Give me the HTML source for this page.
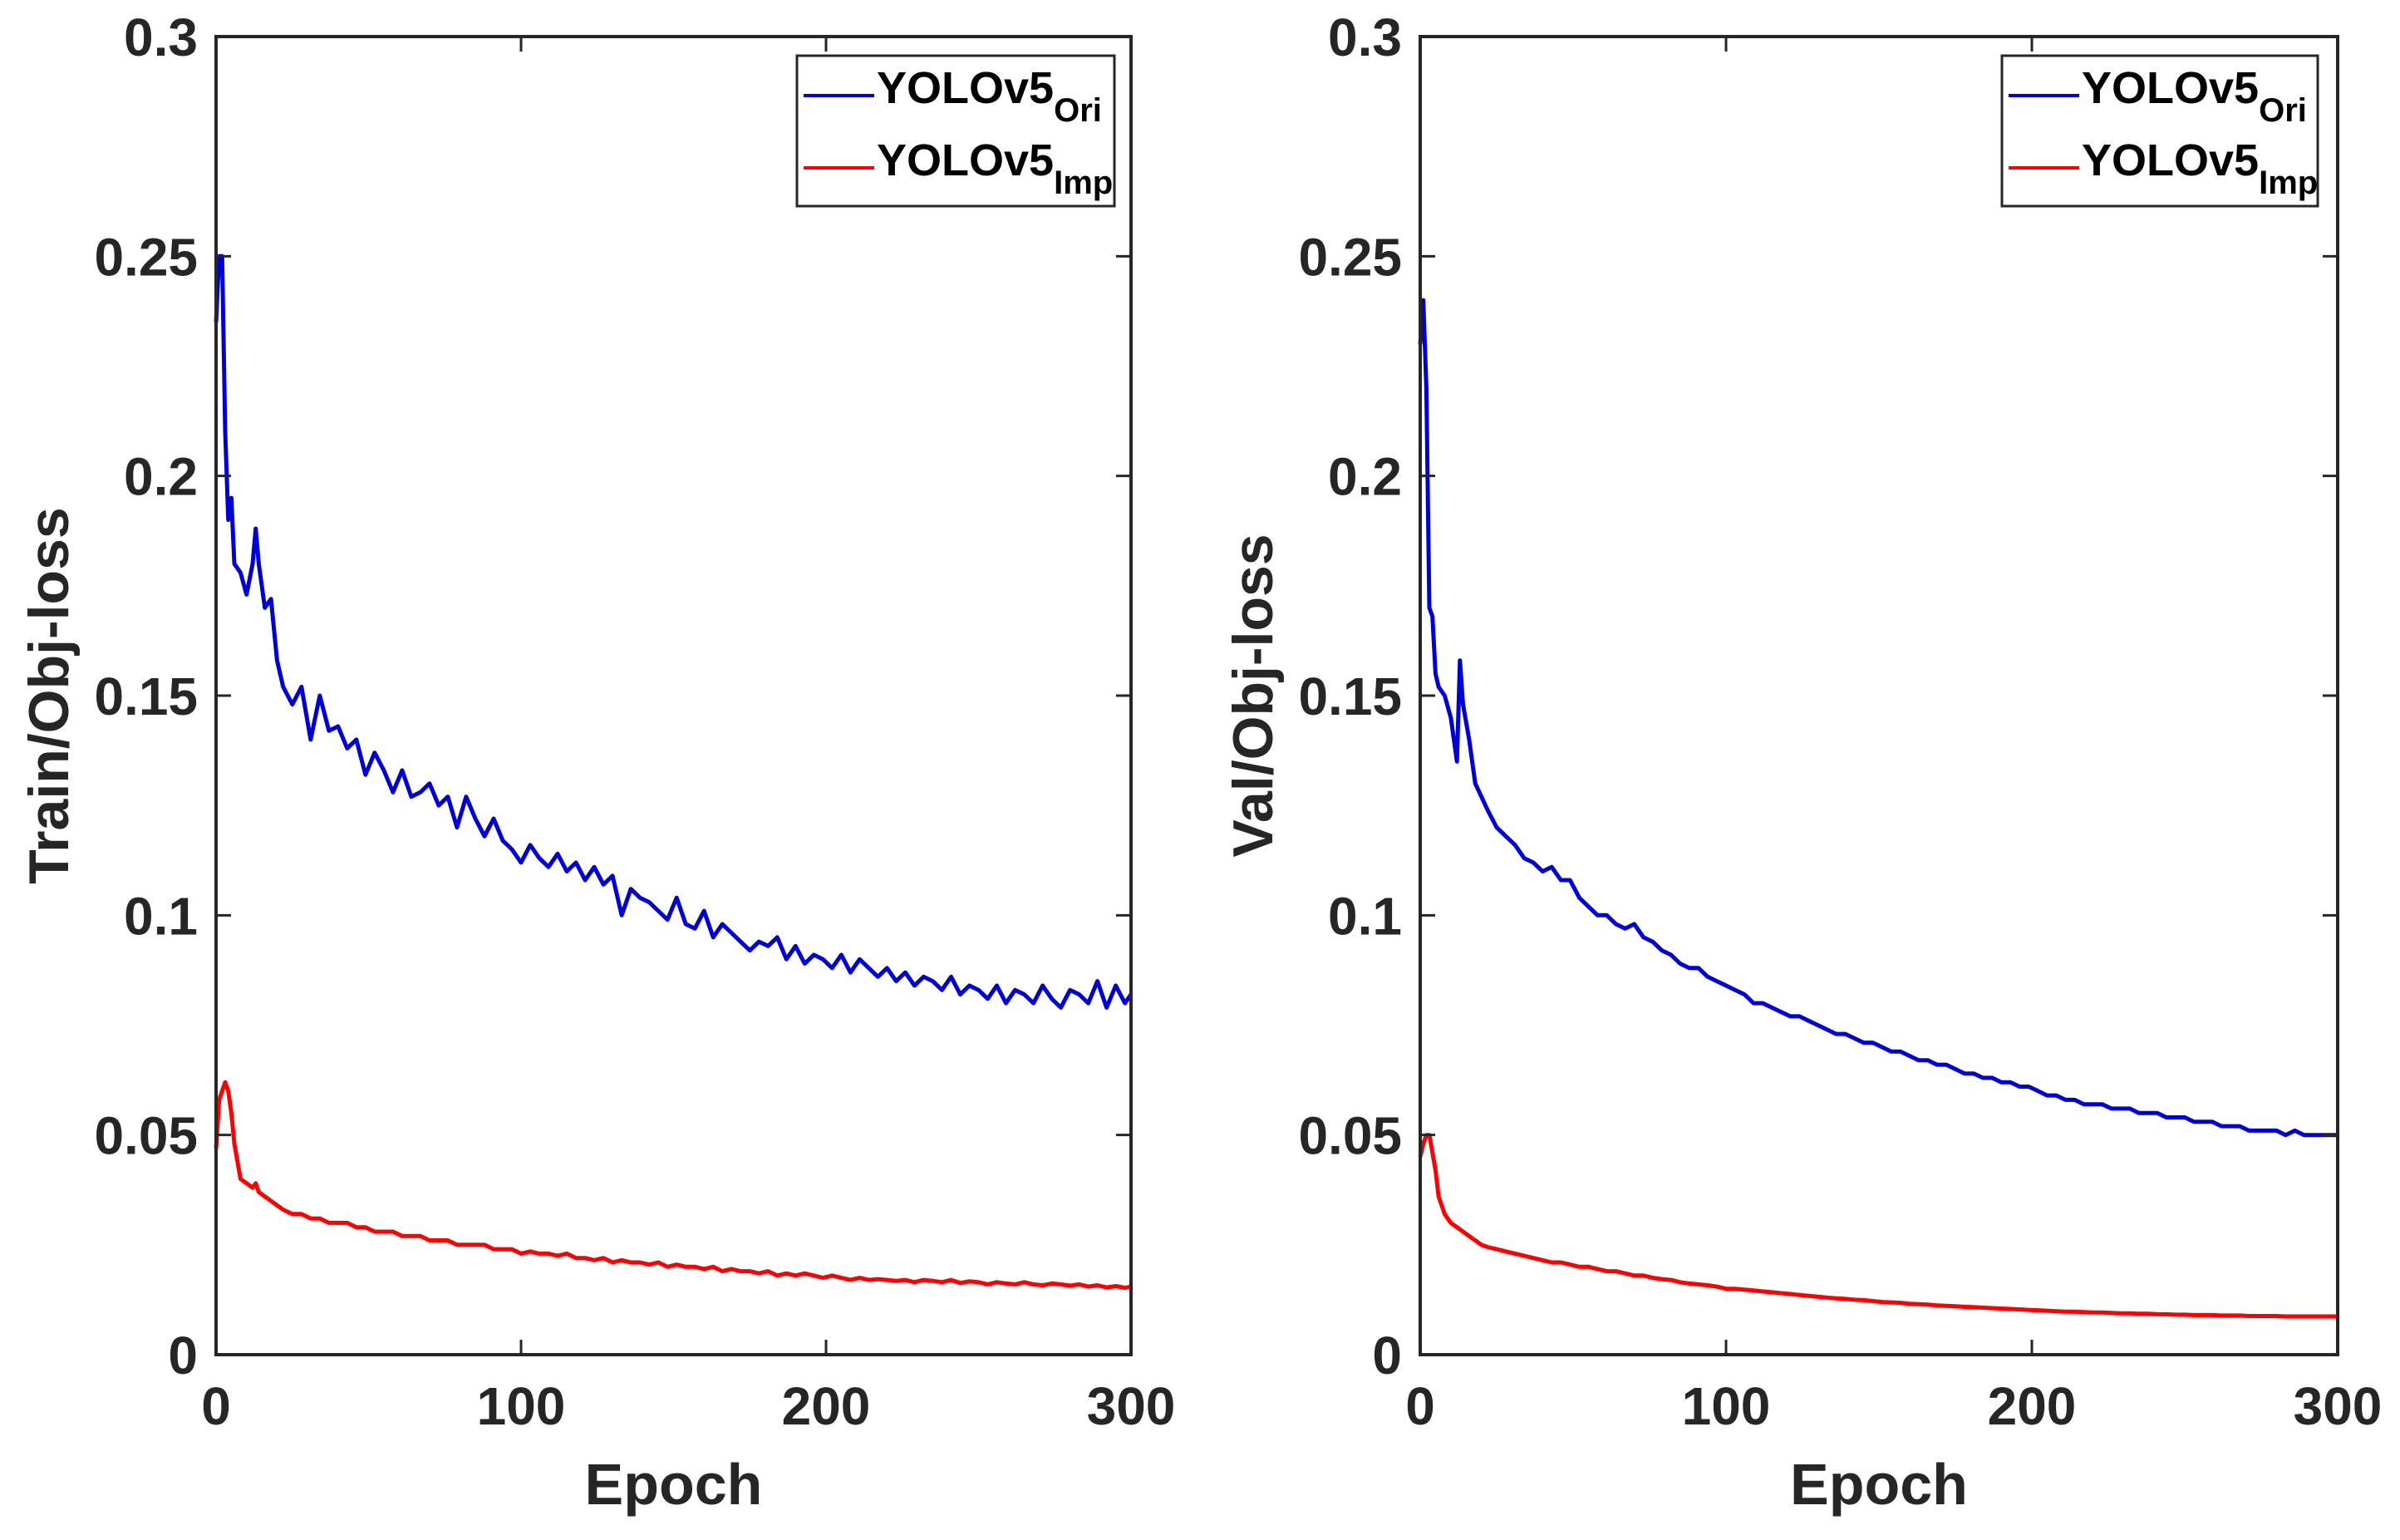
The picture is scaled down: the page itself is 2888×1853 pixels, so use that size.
<!DOCTYPE html>
<html><head><meta charset="utf-8">
<style>
html,body{margin:0;padding:0;background:#fff;}
svg{display:block;font-family:"Liberation Sans",Arial,sans-serif;font-weight:bold;}
</style></head>
<body>
<svg id="chart" width="2888" height="1853" viewBox="0 0 2888 1853" xmlns="http://www.w3.org/2000/svg"></svg>
<script>
const epochs=[0,1,2,3,4,5,6,8,10,12,13,14,16,18,20,22,25,28,31,34,37,40,43,46,49,52,55,58,61,64,67,70,73,76,79,82,85,88,91,94,97,100,103,106,109,112,115,118,121,124,127,130,133,136,139,142,145,148,151,154,157,160,163,166,169,172,175,178,181,184,187,190,193,196,199,202,205,208,211,214,217,220,223,226,229,232,235,238,241,244,247,250,253,256,259,262,265,268,271,274,277,280,283,286,289,292,295,298,300];
const trainOri=[0.235,0.25,0.25,0.21,0.19,0.195,0.18,0.178,0.173,0.18,0.188,0.18,0.17,0.172,0.158,0.152,0.148,0.152,0.140,0.150,0.142,0.143,0.138,0.140,0.132,0.137,0.133,0.128,0.133,0.127,0.128,0.130,0.125,0.127,0.120,0.127,0.122,0.118,0.122,0.117,0.115,0.112,0.116,0.113,0.111,0.114,0.110,0.112,0.108,0.111,0.107,0.109,0.100,0.106,0.104,0.103,0.101,0.099,0.104,0.098,0.097,0.101,0.095,0.098,0.096,0.094,0.092,0.094,0.093,0.095,0.090,0.093,0.089,0.091,0.090,0.088,0.091,0.087,0.090,0.088,0.086,0.088,0.085,0.087,0.084,0.086,0.085,0.083,0.086,0.082,0.084,0.083,0.081,0.084,0.080,0.083,0.082,0.080,0.084,0.081,0.079,0.083,0.082,0.080,0.085,0.079,0.084,0.080,0.082];
const trainImp=[0.047,0.058,0.060,0.062,0.060,0.055,0.048,0.040,0.039,0.038,0.039,0.037,0.036,0.035,0.034,0.033,0.032,0.032,0.031,0.031,0.030,0.030,0.030,0.029,0.029,0.028,0.028,0.028,0.027,0.027,0.027,0.026,0.026,0.026,0.025,0.025,0.025,0.025,0.024,0.024,0.024,0.023,0.0235,0.023,0.023,0.0225,0.023,0.022,0.022,0.0215,0.022,0.021,0.0215,0.021,0.021,0.0205,0.021,0.020,0.0205,0.020,0.020,0.0195,0.020,0.019,0.0195,0.019,0.019,0.0185,0.019,0.018,0.0185,0.018,0.0185,0.018,0.0175,0.018,0.0175,0.017,0.0175,0.017,0.0172,0.017,0.0168,0.017,0.0165,0.017,0.0168,0.0165,0.017,0.0163,0.0167,0.0165,0.016,0.0165,0.0162,0.016,0.0165,0.016,0.0158,0.0162,0.016,0.0157,0.016,0.0155,0.0158,0.0153,0.0156,0.0152,0.0155];
const valOri=[0.23,0.24,0.22,0.17,0.168,0.155,0.152,0.150,0.145,0.135,0.158,0.148,0.140,0.130,0.127,0.124,0.120,0.118,0.116,0.113,0.112,0.110,0.111,0.108,0.108,0.104,0.102,0.100,0.100,0.098,0.097,0.098,0.095,0.094,0.092,0.091,0.089,0.088,0.088,0.086,0.085,0.084,0.083,0.082,0.080,0.080,0.079,0.078,0.077,0.077,0.076,0.075,0.074,0.073,0.073,0.072,0.071,0.071,0.070,0.069,0.069,0.068,0.067,0.067,0.066,0.066,0.065,0.064,0.064,0.063,0.063,0.062,0.062,0.061,0.061,0.060,0.059,0.059,0.058,0.058,0.057,0.057,0.057,0.056,0.056,0.056,0.055,0.055,0.055,0.054,0.054,0.054,0.053,0.053,0.053,0.052,0.052,0.052,0.051,0.051,0.051,0.051,0.050,0.051,0.050,0.050,0.050,0.050,0.050];
const valImp=[0.045,0.048,0.050,0.050,0.046,0.042,0.036,0.032,0.030,0.029,0.0285,0.028,0.027,0.026,0.025,0.0245,0.024,0.0235,0.023,0.0225,0.022,0.0215,0.021,0.021,0.0205,0.020,0.020,0.0195,0.019,0.019,0.0185,0.018,0.018,0.0175,0.0172,0.017,0.0165,0.0162,0.016,0.0158,0.0155,0.015,0.015,0.0148,0.0146,0.0144,0.0142,0.014,0.0138,0.0136,0.0134,0.0132,0.013,0.0128,0.0127,0.0125,0.0124,0.0122,0.012,0.0119,0.0118,0.0116,0.0115,0.0114,0.0112,0.0111,0.011,0.0109,0.0108,0.0107,0.0106,0.0105,0.0104,0.0103,0.0102,0.0101,0.0100,0.0099,0.0098,0.0098,0.0097,0.0096,0.0096,0.0095,0.0094,0.0094,0.0093,0.0093,0.0092,0.0092,0.0091,0.0091,0.009,0.009,0.009,0.0089,0.0089,0.0089,0.0088,0.0088,0.0088,0.0088,0.0087,0.0087,0.0087,0.0087,0.0087,0.0087,0.0087];
const yTicks=[0,0.05,0.1,0.15,0.2,0.25,0.3];
const yTickLabels=["0","0.05","0.1","0.15","0.2","0.25","0.3"];
const xTicks=[0,100,200,300];
const xTickLabels=["0","100","200","300"];

const NS="http://www.w3.org/2000/svg";
const svg=document.getElementById('chart');
function mk(tag,attrs,parent){const e=document.createElementNS(NS,tag);for(const k in attrs)e.setAttribute(k,attrs[k]);(parent||svg).appendChild(e);return e;}

function panel(L,R,T,B,title,ori,imp,lgL,lgR,prefix){
  const g=mk('g',{});
  
  
  const xs=v=>L+(v-0)/300*(R-L);
  const ys=v=>B-(v/0.3)*(B-T);
  function series(vals,color,name){
    let d='';
    for(let i=0;i<epochs.length;i++){d+=(i?'L':'M')+xs(epochs[i]).toFixed(1)+','+ys(vals[i]).toFixed(1);}
    const p=mk('path',{d:d,fill:'none',stroke:color,'stroke-width':5,'stroke-linejoin':'round'},g);
    
    
  }
  series(ori,'#0000dd',prefix+'-yolov5-ori-line');
  series(imp,'#ff0000',prefix+'-yolov5-imp-line');
  const box=mk('rect',{x:L,y:T,width:R-L,height:B-T,fill:'none',stroke:'#262626','stroke-width':4},g);
  
  
  for(let i=0;i<yTicks.length;i++){
    const y=ys(yTicks[i]);
    mk('line',{x1:L,y1:y,x2:L+18,y2:y,stroke:'#262626','stroke-width':3},g);
    mk('line',{x1:R,y1:y,x2:R-18,y2:y,stroke:'#262626','stroke-width':3},g);
    const t=mk('text',{x:L-22,y:y+23,'text-anchor':'end','font-size':64,fill:'#262626'},g);
    t.textContent=yTickLabels[i];
    
    
  }
  for(let i=0;i<xTicks.length;i++){
    const x=xs(xTicks[i]);
    mk('line',{x1:x,y1:B,x2:x,y2:B-18,stroke:'#262626','stroke-width':3},g);
    mk('line',{x1:x,y1:T,x2:x,y2:T+18,stroke:'#262626','stroke-width':3},g);
    const t=mk('text',{x:x,y:1714,'text-anchor':'middle','font-size':64,fill:'#262626'},g);
    t.textContent=xTickLabels[i];
    
    
  }
  const xt=mk('text',{x:(L+R)/2,y:1810,'text-anchor':'middle','font-size':70,fill:'#262626'},g);
  xt.textContent='Epoch';
  
  
  const cy=(T+B)/2;
  const yt=mk('text',{x:L-178,y:cy,'text-anchor':'middle','font-size':68,fill:'#262626',transform:'rotate(-90 '+(L-178)+' '+cy+')'},g);
  yt.textContent=title;
  
  
  const lg=mk('g',{},g);
  
  
  mk('rect',{x:lgL,y:67,width:lgR-lgL,height:181,fill:'#fff',stroke:'#262626','stroke-width':3},lg);
  const entries=[['#0000dd','Ori',115],['#ff0000','Imp',202]];
  entries.forEach(en=>{
    mk('line',{x1:lgL+8,y1:en[2],x2:lgL+93,y2:en[2],stroke:en[0],'stroke-width':4},lg);
    const t=mk('text',{x:lgL+96,y:en[2]+9,'font-size':54,fill:'#000'},lg);
    
    
    t.appendChild(document.createTextNode('YOLOv5'));
    const s=document.createElementNS(NS,'tspan');
    s.setAttribute('font-size','40');s.setAttribute('dy','22');
    s.textContent=en[1];
    t.appendChild(s);
  });
}
panel(260,1361,44,1630,'Train/Obj-loss',trainOri,trainImp,959,1341,'train');
panel(1709,2813,44,1630,'Val/Obj-loss',valOri,valImp,2409,2789,'val');
</script>
</body></html>
